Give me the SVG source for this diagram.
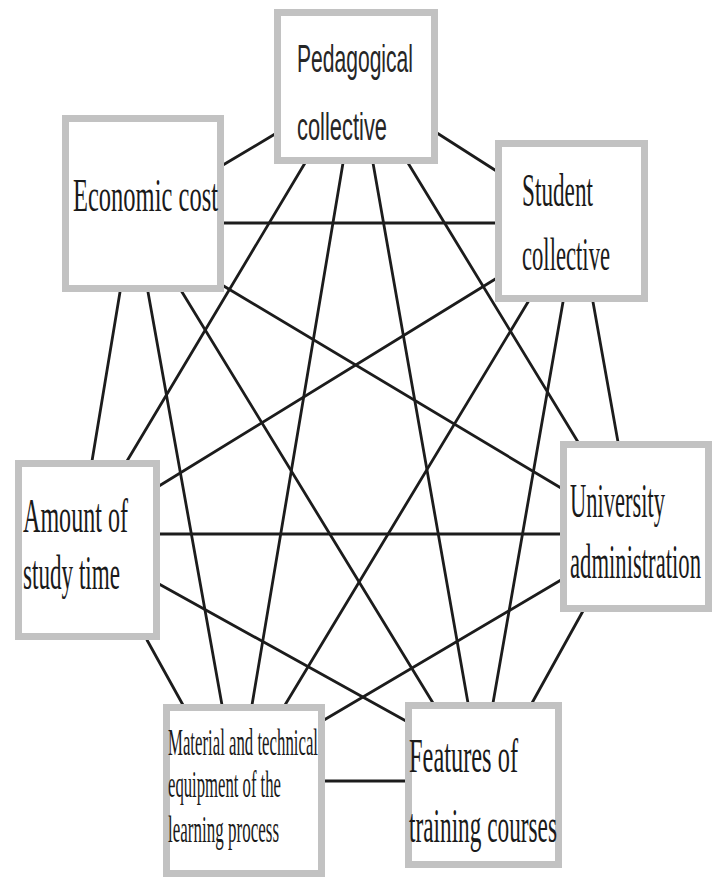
<svg xmlns="http://www.w3.org/2000/svg" width="715" height="879" viewBox="0 0 715 879">
<style>
.box{fill:#ffffff;stroke:#c2c2c2;stroke-width:7}
.c line{stroke:#1c1c1c;stroke-width:2.8;stroke-linecap:round}
.s{font-family:"Liberation Serif","Times New Roman",serif;fill:#1a1a1a}
.ss{font-family:"Liberation Sans",Arial,sans-serif;fill:#262626}
</style>
<rect width="715" height="879" fill="#ffffff"/>
<g id="connectors" class="c">
<line x1="223" y1="165" x2="275" y2="134"/>
<line x1="437" y1="133" x2="498" y2="172"/>
<line x1="223" y1="223" x2="497" y2="223"/>
<line x1="222" y1="285" x2="561" y2="488"/>
<line x1="182" y1="292" x2="433" y2="703"/>
<line x1="148" y1="292" x2="222" y2="705"/>
<line x1="120" y1="292" x2="92" y2="461"/>
<line x1="305" y1="163" x2="127" y2="461"/>
<line x1="343" y1="163" x2="252" y2="705"/>
<line x1="373" y1="163" x2="468" y2="703"/>
<line x1="408" y1="163" x2="578" y2="442"/>
<line x1="497" y1="278" x2="159" y2="486"/>
<line x1="528" y1="302" x2="285" y2="705"/>
<line x1="563" y1="302" x2="493" y2="703"/>
<line x1="593" y1="302" x2="618" y2="442"/>
<line x1="159" y1="534" x2="561" y2="534"/>
<line x1="159" y1="584" x2="406" y2="721"/>
<line x1="147" y1="640" x2="183" y2="705"/>
<line x1="561" y1="580" x2="324" y2="720"/>
<line x1="583" y1="611" x2="532" y2="703"/>
<line x1="324" y1="781" x2="406" y2="781"/>
</g>
<g id="pedagogical">
<rect class="box" x="277.5" y="12.5" width="157" height="148"/>
<text class="ss" transform="translate(297,72) scale(1,2)" font-size="19" textLength="116" lengthAdjust="spacingAndGlyphs">Pedagogical</text>
<text class="ss" transform="translate(297,140) scale(1,2)" font-size="19" textLength="90" lengthAdjust="spacingAndGlyphs">collective</text>
</g>
<g id="economic">
<rect class="box" x="65.5" y="118.5" width="155" height="170"/>
<text class="s" transform="translate(73,211) scale(1,2)" font-size="23" textLength="145" lengthAdjust="spacingAndGlyphs">Economic cost</text>
</g>
<g id="student">
<rect class="box" x="498.5" y="143.5" width="146" height="155"/>
<text class="s" transform="translate(522,206) scale(1,2)" font-size="23" textLength="71" lengthAdjust="spacingAndGlyphs">Student</text>
<text class="s" transform="translate(522,270) scale(1,2)" font-size="23" textLength="88" lengthAdjust="spacingAndGlyphs">collective</text>
</g>
<g id="amount">
<rect class="box" x="18.5" y="463.5" width="138" height="173"/>
<text class="s" transform="translate(23,532) scale(1,2)" font-size="24" textLength="105" lengthAdjust="spacingAndGlyphs">Amount of</text>
<text class="s" transform="translate(23,589) scale(1,2)" font-size="24" textLength="97" lengthAdjust="spacingAndGlyphs">study time</text>
</g>
<g id="university">
<rect class="box" x="563.5" y="444.5" width="145" height="164"/>
<text class="s" transform="translate(570,517) scale(1,2)" font-size="24" textLength="95" lengthAdjust="spacingAndGlyphs">University</text>
<text class="s" transform="translate(570,578) scale(1,2)" font-size="24" textLength="131" lengthAdjust="spacingAndGlyphs">administration</text>
</g>
<g id="material">
<rect class="box" x="166.5" y="707.5" width="155" height="166"/>
<text class="s" transform="translate(168,755) scale(1,2)" font-size="18.5" textLength="150" lengthAdjust="spacingAndGlyphs">Material and technical</text>
<text class="s" transform="translate(168,797) scale(1,2)" font-size="18.5" textLength="113" lengthAdjust="spacingAndGlyphs">equipment of the</text>
<text class="s" transform="translate(168,842) scale(1,2)" font-size="18.5" textLength="111" lengthAdjust="spacingAndGlyphs">learning process</text>
</g>
<g id="features">
<rect class="box" x="408.5" y="705.5" width="150" height="159"/>
<text class="s" transform="translate(409,772) scale(1,2)" font-size="24" textLength="109" lengthAdjust="spacingAndGlyphs">Features of</text>
<text class="s" transform="translate(409,842) scale(1,2)" font-size="24" textLength="148" lengthAdjust="spacingAndGlyphs">training courses</text>
</g>
</svg>
